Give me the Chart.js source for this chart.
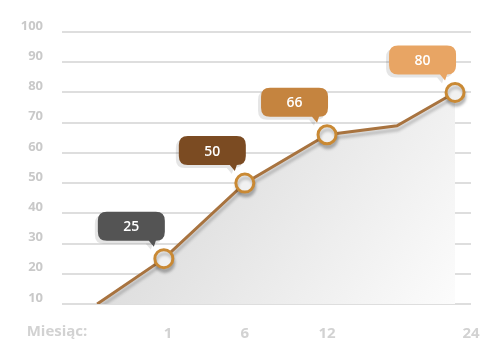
<!DOCTYPE html>
<html>
<head>
<meta charset="utf-8">
<script src="https://cdn.jsdelivr.net/npm/chart.js@4/dist/chart.umd.min.js"></script>
<style>
  html, body { margin: 0; padding: 0; background: #fff; }
  #wrap { width: 500px; height: 353px; }
</style>
</head>
<body>
<div id="wrap"><canvas id="growthChart"></canvas></div>
<script>
// values
const pointPos   = [8.6, 24.9, 44.7, 64.8, 81.9, 96.1];   // position along the timeline
const values     = [10, 25, 50, 66, 69, 80];
const markerSize = [0, 9, 9, 9, 0, 9];
const calloutIdx = [1, 2, 3, 5];
const calloutCol = ['#545454', '#7b4b22', '#c5843f', '#e8a564'];
const monthPos   = [25.9, 44.7, 64.8, 100];
const monthLabels = ['1', '6', '12', '24'];
const yTicks     = [10, 20, 30, 40, 50, 60, 70, 80, 90, 100];

const FONT = '"Open Sans", sans-serif';

// soft shadow under the line and markers
const shadowPlugin = {
  id: 'lineShadow',
  beforeDatasetDraw(chart) {
    const ctx = chart.ctx;
    ctx.save();
    ctx.shadowColor = 'rgba(0,0,0,0.22)';
    ctx.shadowBlur = 3;
    ctx.shadowOffsetX = 1;
    ctx.shadowOffsetY = 4;
  },
  afterDatasetDraw(chart) {
    chart.ctx.restore();
  }
};

// speech-bubble labels above the markers
const calloutPlugin = {
  id: 'callouts',
  afterDatasetsDraw(chart) {
    const ctx = chart.ctx;
    const meta = chart.getDatasetMeta(0);
    calloutIdx.forEach((i, k) => {
      const pt = meta.data[i];
      const w = 67, h = 29, r = 9;
      const x = pt.x - w + 1;
      const y = pt.y - 18 - h;
      const tipX = pt.x - 9;

      const shape = () => {
        ctx.beginPath();
        ctx.moveTo(x + r, y);
        ctx.lineTo(x + w - r, y);
        ctx.quadraticCurveTo(x + w, y, x + w, y + r);
        ctx.lineTo(x + w, y + h - r);
        ctx.quadraticCurveTo(x + w, y + h, x + w - r, y + h);
        ctx.lineTo(tipX + 1, y + h);
        ctx.lineTo(tipX - 1, y + h + 6);
        ctx.lineTo(tipX - 6, y + h);
        ctx.lineTo(x + r, y + h);
        ctx.quadraticCurveTo(x, y + h, x, y + h - r);
        ctx.lineTo(x, y + r);
        ctx.quadraticCurveTo(x, y, x + r, y);
        ctx.closePath();
      };

      ctx.save();
      ctx.translate(-3, 3);
      shape();
      ctx.fillStyle = 'rgba(0,0,0,0.10)';
      ctx.fill();
      ctx.restore();

      ctx.save();
      shape();
      ctx.fillStyle = calloutCol[k];
      ctx.fill();
      ctx.fillStyle = '#ffffff';
      ctx.font = '600 14px ' + FONT;
      ctx.textAlign = 'center';
      ctx.textBaseline = 'middle';
      ctx.fillText(String(values[i]), x + w / 2, y + h / 2 + 1);
      ctx.restore();
    });

    // axis caption on the tick row
    const area = chart.chartArea;
    ctx.save();
    ctx.fillStyle = '#d2d2d2';
    ctx.font = '700 15px ' + FONT;
    ctx.textAlign = 'center';
    ctx.textBaseline = 'middle';
    ctx.fillText('Miesiąc:', 57, area.bottom + 28);
    ctx.restore();
  }
};

new Chart(document.getElementById('growthChart'), {
  type: 'line',
  data: {
    datasets: [{
      data: pointPos.map((p, i) => ({ x: p, y: values[i] })),
      borderColor: '#a8733f',
      borderWidth: 3,
      tension: 0,
      fill: 'start',
      backgroundColor(context) {
        const area = context.chart.chartArea;
        if (!area) return '#e6e6e6';
        const g = context.chart.ctx.createLinearGradient(area.left, area.top, area.right, area.bottom);
        g.addColorStop(0, '#cccccc');
        g.addColorStop(1, '#fdfdfd');
        return g;
      },
      pointRadius: markerSize,
      pointHoverRadius: markerSize,
      pointBackgroundColor: '#f1f1f1',
      pointBorderColor: '#c98934',
      pointBorderWidth: 3
    }]
  },
  options: {
    responsive: true,
    maintainAspectRatio: false,
    animation: false,
    layout: { padding: { left: 0, right: 29, top: 32, bottom: 0 } },
    plugins: {
      legend: { display: false },
      tooltip: { enabled: false }
    },
    scales: {
      x: {
        type: 'linear',
        min: 0,
        max: 100,
        grid: { display: false },
        border: { display: false },
        afterBuildTicks(scale) {
          scale.ticks = monthPos.map(v => ({ value: v }));
        },
        afterFit(scale) { scale.height = 49; },
        ticks: {
          autoSkip: false,
          maxRotation: 0,
          padding: 13,
          color: '#d2d2d2',
          font: { family: FONT, size: 15, weight: '700' },
          callback(value) {
            const i = monthPos.indexOf(value);
            return i >= 0 ? monthLabels[i] : '';
          }
        }
      },
      y: {
        min: 10,
        max: 100,
        grid: { color: '#dedede', lineWidth: 2, drawTicks: false },
        border: { display: false },
        afterBuildTicks(scale) {
          scale.ticks = yTicks.map(v => ({ value: v }));
        },
        afterFit(scale) { scale.width = 62; },
        ticks: {
          padding: 19,
          labelOffset: -6,
          color: '#c9c9c9',
          font: { family: FONT, size: 13, weight: '700' }
        }
      }
    }
  },
  plugins: [shadowPlugin, calloutPlugin]
});
</script>
</body>
</html>
